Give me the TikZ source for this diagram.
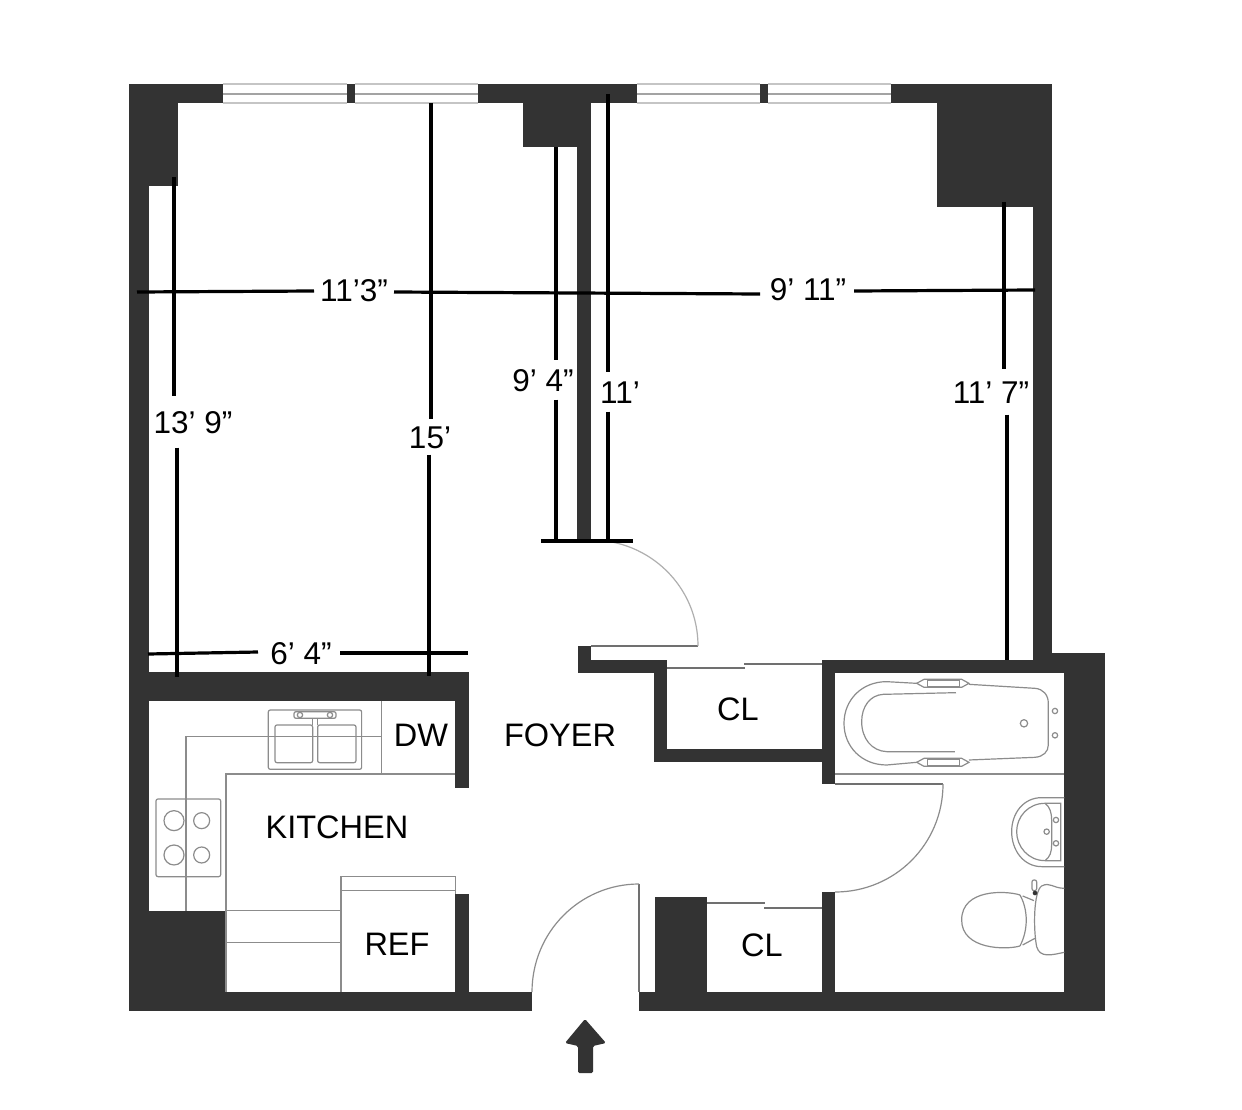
\documentclass[tikz,border=0pt]{standalone}
\usepackage{fontspec}
\setmainfont{Liberation Sans}
\usetikzlibrary{arrows.meta}
\definecolor{wallgray}{HTML}{333333}
\definecolor{linegray}{HTML}{8C8C8C}
\tikzset{
  wall/.style={fill=wallgray},
  thinline/.style={draw=linegray,line width=1.2pt},
  doorleaf/.style={draw=wallgray!70!white,line width=1.4pt},
  dimline/.style={draw=black,line width=3.2pt},
  roomlabel/.style={font=\fontsize{32.5}{32.5}\selectfont,text height=23pt,text depth=0pt,inner sep=0pt},
  dimlabel/.style={font=\fontsize{31.5}{31.5}\selectfont,text height=23pt,text depth=0pt,inner xsep=6pt,inner ysep=8pt},
}
\begin{document}
\begin{tikzpicture}[x=1pt,y=-1pt]
\useasboundingbox[fill=white] (0,0) rectangle (1242,1110);
% walls
\foreach \xa/\ya/\xb/\yb in {
  129/84/149/1010, 129/84/178/186, 129/84/223/103, 347/84/355/103, 478/84/637/103,
  523/84/591/147, 577/84/591/540, 760/84/768/103, 891/84/1052/103, 937/84/1052/207,
  1033/84/1052/660, 822/660/1064/673, 1052/653/1105/673, 1064/653/1105/1010,
  822/660/835/784, 822/892/835/1010, 149/672/469/701, 455/672/469/788, 455/894/469/1000,
  129/911/226/1010, 129/992/532/1011, 639/992/1105/1011, 655/897/707/992,
  578/646/591/673, 578/660/667/673, 654/660/667/762, 654/749/822/762} {
  \fill[wall] (\xa,\ya) rectangle (\xb,\yb);
}
% windows
\foreach \xa/\xb in {223/347,355/478,637/760,768/891} {
  \draw[thinline,draw=linegray!50!white,line width=1.4pt] (\xa,84) -- (\xb,84) (\xa,103) -- (\xb,103);
  \draw[thinline,draw=linegray!80!white,line width=1.4pt] (\xa,94) -- (\xb,94);
}
% doors
\draw[doorleaf] (591,646) -- (698,646);
\draw[thinline,draw=linegray!70!white] (698,646) .. controls (698,587) and (650,540) .. (591,540);
\draw[doorleaf] (639,884) -- (639,992);
\draw[thinline] (639,884) .. controls (580,884) and (532,932) .. (532,992);
\draw[doorleaf] (835,784) -- (943,784);
\draw[thinline] (943,784) .. controls (943,844) and (895,892) .. (835,892);
\draw[doorleaf] (667,668) -- (745,668);
\draw[doorleaf] (744,664) -- (822,664);
\draw[doorleaf] (707,903) -- (765,903);
\draw[doorleaf] (764,908) -- (822,908);
% kitchen
\begin{scope}[shift={(130,660)},x=.3333pt,y=-.3333pt]
  \draw[thinline] (755,230) -- (168,230) -- (168,752);
  \draw[thinline] (975,342) -- (288,342) -- (288,995);
  \draw[thinline] (755,122) -- (755,342);
  \draw[thinline,rounded corners=2pt] (415,150) rectangle (695,328);
  \draw[thinline,rounded corners=2pt] (435,195) rectangle (548,308);
  \draw[thinline,rounded corners=2pt] (563,195) rectangle (678,308);
  \draw[thinline,rounded corners=2pt] (492,155) rectangle (618,175);
  \draw[thinline] (548,175) -- (548,195) (563,175) -- (563,195);
  \foreach \bx in {510,600} {
    \draw[thinline] (\bx,165) circle[radius=8];
  }
  \draw[thinline,rounded corners=2pt] (78,417) rectangle (272,650);
  \foreach \by in {482,585} {
    \draw[thinline] (132,\by) circle[radius=30];
    \draw[thinline] (215,\by) circle[radius=24];
  }
  \draw[thinline] (288,752) -- (633,752);
  \draw[thinline] (288,848) -- (633,848);
  \draw[thinline] (633,995) -- (633,650) -- (977,650) -- (977,703);
  \draw[thinline] (633,692) -- (977,692);
\end{scope}
% bath
\begin{scope}[shift={(820,650)},x=.3333pt,y=-.3333pt]
  \draw[thinline] (45,372) -- (733,372);
  \draw[thinline] (290,100) -- (200,95) .. controls (125,95) and (72,150) .. (72,220) .. controls (72,290) and (125,345) .. (200,345) -- (290,337);
  \draw[thinline] (447,103) -- (645,115) .. controls (670,117) and (685,135) .. (685,160) -- (685,285) .. controls (685,305) and (670,320) .. (645,322) -- (447,330);
  \draw[thinline] (408,128) -- (190,133) .. controls (150,135) and (125,170) .. (125,215) .. controls (125,265) and (155,303) .. (200,305) -- (405,305);
  \foreach \hy in {100,337} {
    \draw[thinline] (290,\hy) -- (312,\hy-12) -- (425,\hy-12) -- (447,\hy) -- (425,\hy+12) -- (312,\hy+12) -- cycle;
    \draw[thinline] (322,\hy-9) rectangle (418,\hy+9);
  }
  \draw[thinline] (612,220) circle[radius=11];
  \draw[thinline] (705,183) circle[radius=8];
  \draw[thinline] (705,256) circle[radius=8];
  % sink
  \draw[thinline] (733,443) -- (665,443) .. controls (610,443) and (575,490) .. (575,545) .. controls (575,600) and (610,650) .. (665,650) -- (733,650);
  \draw[thinline] (722,460) -- (722,632) -- (675,632) .. controls (625,632) and (590,590) .. (590,545) .. controls (590,500) and (625,460) .. (675,460) -- cycle;
  \draw[thinline] (675,460) .. controls (690,470) and (695,490) .. (695,510) -- (695,585) .. controls (695,605) and (690,622) .. (675,632);
  \draw[thinline] (708,510) circle[radius=8];
  \draw[thinline] (680,545) circle[radius=8];
  \draw[thinline] (708,580) circle[radius=8];
  % toilet
  \draw[thinline] (600,735) .. controls (560,722) and (425,715) .. (425,810) .. controls (425,900) and (560,900) .. (600,888);
  \draw[thinline] (600,735) .. controls (625,780) and (625,840) .. (600,888);
  \draw[thinline] (608,738) -- (642,752);
  \draw[thinline] (608,885) -- (645,865);
  \draw[thinline] (733,715) .. controls (700,715) and (690,695) .. (665,708) .. controls (640,725) and (640,840) .. (650,890) .. controls (660,925) and (695,915) .. (733,907);
  \draw[thinline,rounded corners=2pt] (636,690) rectangle (650,722);
  \fill[wallgray] (645,729) circle[radius=7];
\end{scope}
% entry arrow
\fill[wall,rounded corners=1.5pt] (585,1019) -- (606,1043) -- (593,1046) -- (593,1073) -- (578,1073) -- (578,1046) -- (565,1043) -- cycle;
% rooms
\node[roomlabel] (dw) at (421,735) {DW};
\node[roomlabel] (foyer) at (560,735) {FOYER};
\node[roomlabel] (kitchen) at (337,827) {KITCHEN};
\node[roomlabel] (ref) at (397,944) {REF};
\node[roomlabel] (closetA) at (738,709) {CL};
\node[roomlabel] (closetB) at (762,945) {CL};
% dimensions
\node[dimlabel] (widthA) at (354,290) {11’3”};
\node[dimlabel] (widthB) at (808,289) {9’ 11”};
\node[dimlabel] (widthC) at (301,653) {6’ 4”};
\node[dimlabel,inner ysep=14pt] (depthA) at (193,422) {13’ 9”};
\node[dimlabel,inner ysep=6pt] (depthB) at (430,437) {15’};
\node[dimlabel] (depthC) at (543,380) {9’ 4”};
\node[dimlabel] (depthD) at (620,392) {11’};
\node[dimlabel,inner ysep=11pt] (depthE) at (991,392) {11’ 7”};
\foreach \na/\xa/\ya/\nb/\xb/\yb in {wl/137/292/wa/314/291, wb/394/292/wc/760/294, wd/854/291/wr/1035/290, sl/148/654/sa/258/652, sb/340/653/sr/468/653} {
  \coordinate (\na) at (\xa,\ya);
  \coordinate (\nb) at (\xb,\yb);
  \draw[dimline] (\na) -- (\nb);
}
\foreach \lbl/\xa/\ya/\xb/\yb in {depthA/174/177/177/677, depthB/431/103/429/676, depthC/556/147/556/541, depthD/608/94/608/541, depthE/1004/202/1007/660} {
  \coordinate (t) at (\xa,\ya);
  \coordinate (b) at (\xb,\yb);
  \draw[dimline] (t) -- (t |- \lbl.north) (b |- \lbl.south) -- (b);
}
\coordinate (barl) at (541,541);
\coordinate (barr) at (633,541);
\draw[dimline] (barl) -- (barr);
\end{tikzpicture}
\end{document}
